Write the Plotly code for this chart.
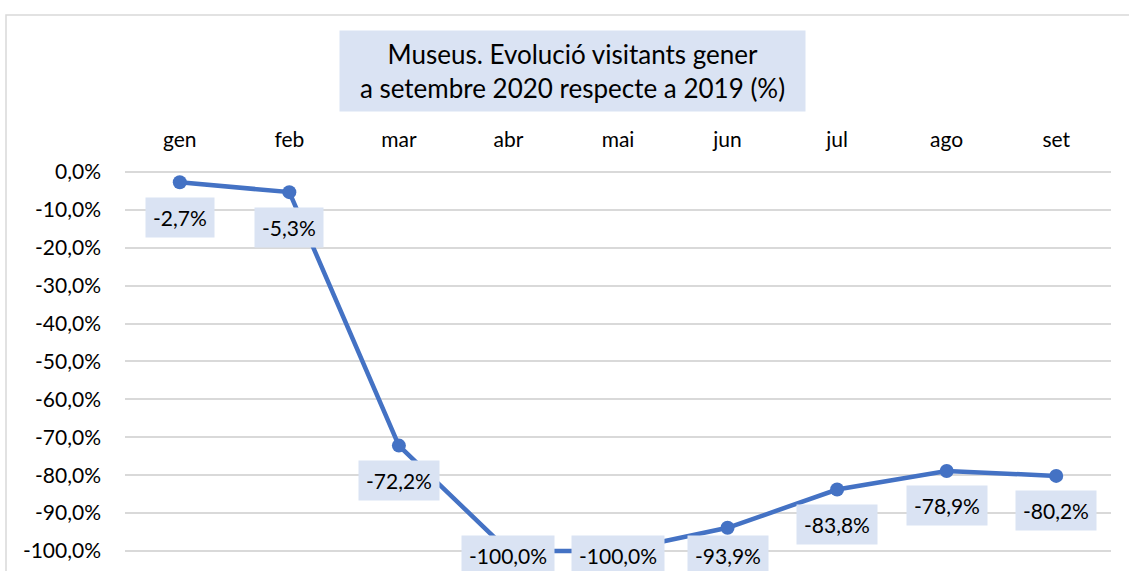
import plotly.graph_objects as go

# Museum visitors: monthly change 2020 vs 2019 (%)
months = ["gen", "feb", "mar", "abr", "mai", "jun", "jul", "ago", "set"]
change_pct = [-2.7, -5.3, -72.2, -100.0, -100.0, -93.9, -83.8, -78.9, -80.2]
y_ticks = [0, -10, -20, -30, -40, -50, -60, -70, -80, -90, -100]
y_tick_text = ["0,0%", "-10,0%", "-20,0%", "-30,0%", "-40,0%", "-50,0%",
               "-60,0%", "-70,0%", "-80,0%", "-90,0%", "-100,0%"]

W, H = 1129, 571
M_L, M_R, M_T, M_B = 125, 18, 155, 0
Y_RANGE = [-105.3, 4.5]

LINE = "#4472C4"
BOX = "#DAE3F3"
GRID = "#D9D9D9"
FONT = "Lato"
FS = 21

fig = go.Figure()
fig.add_trace(go.Scatter(
    x=months, y=change_pct, mode="lines+markers",
    line=dict(color=LINE, width=4.5),
    marker=dict(color=LINE, size=14),
    hoverinfo="skip", showlegend=False,
))

# data labels under each point, kept inside the chart area
plot_h = H - M_T - M_B
px_per_unit = plot_h / (Y_RANGE[1] - Y_RANGE[0])
for m, v in zip(months, change_pct):
    point_px = M_T + (Y_RANGE[1] - v) * px_per_unit
    center_px = min(point_px + 35, 555)
    txt = f"{v:.1f}%".replace(".", ",")
    fig.add_annotation(
        x=m, y=v, xref="x", yref="y", text=txt, showarrow=False,
        yshift=-(center_px - point_px), bgcolor=BOX, borderpad=7,
        font=dict(family=FONT, size=FS, color="#000000"),
    )

# chart title in a shaded box
def paper_x(px):
    return (px - M_L) / (W - M_L - M_R)

def paper_y(py):
    return (H - M_B - py) / plot_h

fig.add_annotation(
    x=paper_x(572), y=paper_y(71), xref="paper", yref="paper",
    text="Museus. Evolució visitants gener<br>a setembre 2020 respecte a 2019 (%)",
    showarrow=False, bgcolor=BOX, width=461, height=76, borderpad=2,
    font=dict(family=FONT, size=26, color="#000000"), align="center",
    xanchor="center", yanchor="middle",
)

# outer chart border
fig.add_shape(
    type="rect", xref="paper", yref="paper",
    x0=paper_x(6), x1=paper_x(1160), y0=paper_y(600), y1=paper_y(15),
    line=dict(color=GRID, width=1.5), fillcolor="rgba(0,0,0,0)", layer="below",
)

fig.update_layout(
    width=W, height=H,
    margin=dict(l=M_L, r=M_R, t=M_T, b=M_B),
    paper_bgcolor="white", plot_bgcolor="white",
    font=dict(family=FONT, size=FS, color="#000000"),
    xaxis=dict(
        side="top", type="category", range=[-0.5, 8.5],
        showgrid=False, zeroline=False, showline=False,
        ticks="", ticklabelstandoff=3,
        tickfont=dict(family=FONT, size=FS, color="#000000"),
    ),
    yaxis=dict(
        range=Y_RANGE, tickvals=y_ticks, ticktext=y_tick_text,
        showgrid=True, gridcolor=GRID, gridwidth=1.5,
        zeroline=False, showline=False, ticks="", ticklabelstandoff=23,
        tickfont=dict(family=FONT, size=FS, color="#000000"),
    ),
)

fig.write_html("out.html")
